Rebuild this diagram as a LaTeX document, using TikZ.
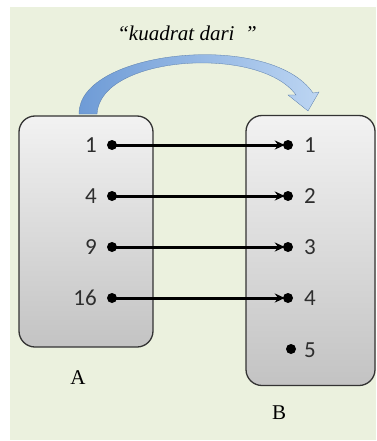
\documentclass[tikz,border=0pt]{standalone}
\usepackage{fontspec}
\setmainfont{Liberation Serif}
\newfontfamily\numfont{Carlito}
\usetikzlibrary{arrows.meta}
\definecolor{bggreen}{HTML}{EBF1DE}
\definecolor{boxtop}{HTML}{F2F2F2}
\definecolor{boxbot}{HTML}{C3C3C3}
\definecolor{boxline}{HTML}{333333}
\definecolor{arcdark}{HTML}{6E9BD6}
\definecolor{arclight}{HTML}{BCD5F2}
\tikzset{
  setbox/.style={draw=boxline, line width=1.3pt, rounded corners=16pt,
    top color=boxtop, bottom color=boxbot},
  elem/.style={circle, fill=black, inner sep=0pt, minimum size=10pt},
  numlbl/.style={font=\numfont\fontsize{23}{23}\selectfont, text=black!82, inner sep=0pt},
  setname/.style={font=\fontsize{21}{21}\selectfont, inner sep=0pt},
  maparrow/.style={line width=3pt, -{Stealth[length=10pt,width=9pt]}, shorten >=-2pt},
}
\begin{document}
\begin{tikzpicture}[x=1pt,y=-1pt]
  % page and background
  \fill[white] (0,0) rectangle (376,441);
  \fill[bggreen] (10,7) rectangle (376,440);
  \useasboundingbox (0,0) rectangle (376,441);

  % title
  \node[font=\itshape\fontsize{21}{21}\selectfont, inner sep=0pt] (title) at (187,33)
    {``kuadrat dari \ ''};

  % curved arrow from A to B
  \shade[left color=arcdark, right color=arclight, draw=arcdark!80!black, line width=0.3pt]
    (79,114) .. controls (78,50) and (270,30) .. (313,93)
    -- (319,92) -- (308,111) -- (288,95) -- (296,95)
    .. controls (260,45) and (100,55) .. (97,114) -- cycle;

  % the two sets
  \node[setbox, minimum width=134pt, minimum height=231pt] (A) at (86,231.5) {};
  \node[setbox, minimum width=129pt, minimum height=270pt] (B) at (310.5,250.5) {};

  % elements of A
  \node[elem] (a1) at (112,145) {};
  \node[elem] (a4) at (112,196) {};
  \node[elem] (a9) at (112,247) {};
  \node[elem] (a16) at (112,298) {};
  \node[numlbl, anchor=east] at (97,145) {1};
  \node[numlbl, anchor=east] at (97,196) {4};
  \node[numlbl, anchor=east] at (97,247) {9};
  \node[numlbl, anchor=east] at (97,298) {16};

  % elements of B
  \node[elem] (b1) at (288,145) {};
  \node[elem] (b2) at (288,196) {};
  \node[elem] (b3) at (288,247) {};
  \node[elem] (b4) at (288,298) {};
  \node[elem] (b5) at (291,349) {};
  \node[numlbl, anchor=west] at (304,145) {1};
  \node[numlbl, anchor=west] at (304,196) {2};
  \node[numlbl, anchor=west] at (304,247) {3};
  \node[numlbl, anchor=west] at (304,298) {4};
  \node[numlbl, anchor=west] at (304,350) {5};

  % mapping
  \draw[maparrow] (a1.center) -- (b1);
  \draw[maparrow] (a4.center) -- (b2);
  \draw[maparrow] (a9.center) -- (b3);
  \draw[maparrow] (a16.center) -- (b4);

  % set names
  \node[setname] (nA) at (78,378) {A};
  \node[setname] (nB) at (279,413) {B};
\end{tikzpicture}
\end{document}
